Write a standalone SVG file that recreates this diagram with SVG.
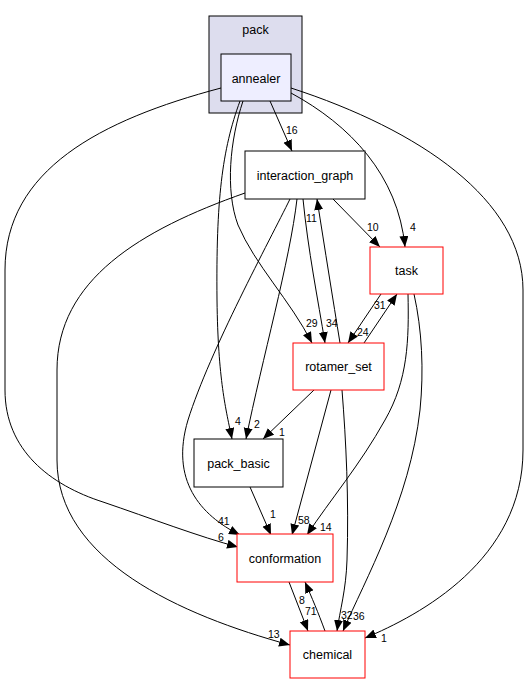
<svg xmlns="http://www.w3.org/2000/svg" width="528" height="684" viewBox="0 0 528 684">
<defs>
<marker id="ah" markerWidth="12" markerHeight="10" refX="11" refY="4.5" orient="auto" markerUnits="userSpaceOnUse">
<path d="M0,0 L11,4.5 L0,9 z" fill="#000"/>
</marker>
<style>
.nt{font-family:"Liberation Sans",Arial,sans-serif;font-size:12.5px;text-anchor:middle;fill:#000}
.el{font-family:"Liberation Sans",Arial,sans-serif;font-size:10.5px;fill:#000}
.e{fill:none;stroke:#000;stroke-width:1;marker-end:url(#ah)}
.nb{fill:#fff;stroke:#000;stroke-width:1}
.nr{fill:#fff;stroke:#ff0000;stroke-width:1}
</style>
</defs>
<rect width="528" height="684" fill="#fff"/>
<g id="cluster_pack">
<rect x="209" y="16" width="93" height="97" fill="#ddddee" stroke="#000"/>
<text class="nt" x="255.5" y="34">pack</text>
</g>
<g id="connectors">
<path class="e" d="M270,101 L292,151"/>
<text class="el" x="286" y="134">16</text>
<path class="e" d="M291,93 C350,125 398,175 405,247"/>
<text class="el" x="410" y="231">4</text>
<path class="e" d="M291,88 C420,130 523,200 523,290 L523,450 C523,560 420,615 365,638"/>
<text class="el" x="381" y="642">1</text>
<path class="e" d="M221,88 C100,120 5,170 5,270 L5,390 C5,450 50,485 103,502 C150,518 200,537 238,547"/>
<text class="el" x="218" y="541">6</text>
<path class="e" d="M240,101 C222,150 216,200 217,300 C218,380 226,410 232,439"/>
<text class="el" x="235" y="425">4</text>
<path class="e" d="M243,101 C230,140 225,190 238,225 C255,265 290,300 312,343"/>
<text class="el" x="306" y="327">29</text>
<path class="e" d="M333,199 L380,247"/>
<text class="el" x="367" y="231">10</text>
<path class="e" d="M303,199 C308,250 318,300 325,343"/>
<text class="el" x="326" y="327">34</text>
<path class="e" d="M340,343 C333,300 325,250 317,199"/>
<text class="el" x="306" y="222">11</text>
<path class="e" d="M297,199 C290,260 262,360 246,439"/>
<text class="el" x="254" y="428">2</text>
<path class="e" d="M290,199 C270,240 210,350 188,420 C170,480 200,515 240,535"/>
<text class="el" x="218" y="525">41</text>
<path class="e" d="M245,193 C140,230 57,280 57,370 L57,460 C57,560 180,615 290,645"/>
<text class="el" x="268" y="638">13</text>
<path class="e" d="M381,294 L348,343"/>
<text class="el" x="357" y="336">24</text>
<path class="e" d="M364,343 L397,294"/>
<text class="el" x="374" y="309">31</text>
<path class="e" d="M408,294 C409,340 408,380 385,420 C360,465 330,500 307,535"/>
<text class="el" x="320" y="531">14</text>
<path class="e" d="M414,294 C422,330 424,370 420,410 C410,500 365,580 343,631"/>
<text class="el" x="353" y="620">36</text>
<path class="e" d="M331,390 L292,535"/>
<text class="el" x="298" y="524">58</text>
<path class="e" d="M342,390 C346,440 349,500 347,560 C346,590 340,610 337,631"/>
<text class="el" x="341" y="619">32</text>
<path class="e" d="M314,390 L263,439"/>
<text class="el" x="279" y="436">1</text>
<path class="e" d="M250,487 L271,535"/>
<text class="el" x="270" y="518">1</text>
<path class="e" d="M289,582 L308,631"/>
<text class="el" x="305" y="615">71</text>
<path class="e" d="M325,631 C318,612 312,598 305,582"/>
<text class="el" x="299" y="604">8</text>
</g>
<g id="annealer">
<rect x="221" y="54" width="70" height="47" fill="#eeeeff" stroke="#000"/>
<text class="nt" x="256" y="82.5">annealer</text>
</g>
<g id="interaction_graph">
<rect class="nb" x="245" y="151" width="120" height="48"/>
<text class="nt" x="305" y="179.5">interaction_graph</text>
</g>
<g id="task">
<rect class="nr" x="370" y="247" width="73" height="47"/>
<text class="nt" x="406.5" y="275">task</text>
</g>
<g id="rotamer_set">
<rect class="nr" x="293" y="343" width="91" height="47"/>
<text class="nt" x="338.5" y="371">rotamer_set</text>
</g>
<g id="pack_basic">
<rect class="nb" x="194" y="439" width="89" height="48"/>
<text class="nt" x="238.5" y="467.5">pack_basic</text>
</g>
<g id="conformation">
<rect class="nr" x="237" y="534" width="96" height="48"/>
<text class="nt" x="285" y="562.5">conformation</text>
</g>
<g id="chemical">
<rect class="nr" x="290" y="631" width="75" height="47"/>
<text class="nt" x="327.5" y="659">chemical</text>
</g>
</svg>
